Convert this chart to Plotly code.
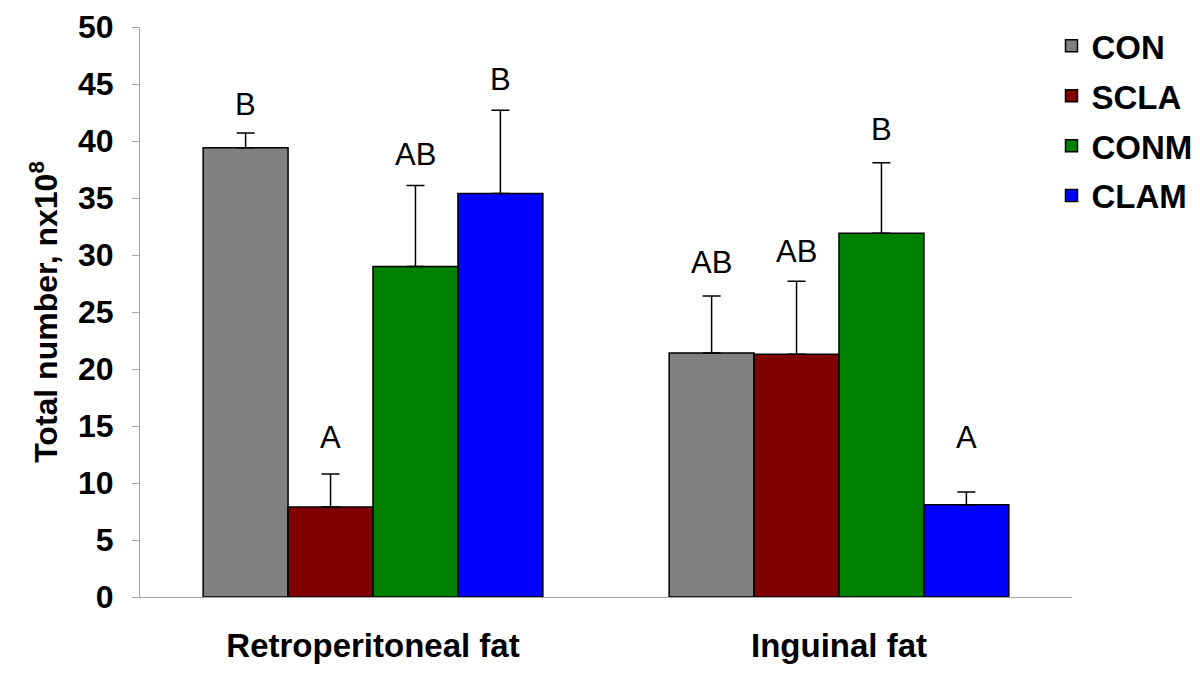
import plotly.graph_objects as go

categories = ["Retroperitoneal fat", "Inguinal fat"]
groups = ["CON", "SCLA", "CONM", "CLAM"]
colors = ["#808080", "#800000", "#008000", "#0000FF"]

con_vals = [39.4, 21.4]
scla_vals = [7.9, 21.3]
conm_vals = [29.0, 31.9]
clam_vals = [35.4, 8.1]

con_err = [1.3, 5.0]
scla_err = [2.9, 6.4]
conm_err = [7.1, 6.2]
clam_err = [7.3, 1.1]

# significance letters and their vertical positions (data units)
con_letters = ["B", "AB"]
scla_letters = ["A", "AB"]
conm_letters = ["AB", "B"]
clam_letters = ["B", "A"]
con_letter_y = [43.2, 29.3]
scla_letter_y = [14.0, 30.3]
conm_letter_y = [38.8, 41.0]
clam_letter_y = [45.4, 14.0]

values = [con_vals, scla_vals, conm_vals, clam_vals]
errors = [con_err, scla_err, conm_err, clam_err]
letters = [con_letters, scla_letters, conm_letters, clam_letters]
letter_y = [con_letter_y, scla_letter_y, conm_letter_y, clam_letter_y]

FONT = "Liberation Sans, Arial, sans-serif"
BARGAP = 0.271

fig = go.Figure()
for i, g in enumerate(groups):
    fig.add_trace(go.Bar(
        name=g, x=categories, y=values[i],
        marker=dict(color=colors[i], line=dict(color="black", width=1.5)),
        error_y=dict(type="data", array=errors[i], arrayminus=[0, 0], symmetric=False,
                     color="black", thickness=1.5, width=9),
        legendgroup=g,
    ))

bw = (1 - BARGAP) / len(groups)
annotations = []
for i in range(len(groups)):
    for j in range(len(categories)):
        annotations.append(dict(
            x=j + (i - (len(groups) - 1) / 2) * bw, y=letter_y[i][j],
            xref="x", yref="y", text=letters[i][j], showarrow=False,
            yanchor="middle", xanchor="center",
            font=dict(family=FONT, size=31, color="black"),
        ))

fig.update_layout(
    width=1200, height=683,
    margin=dict(l=132, r=136, t=19, b=94, autoexpand=False),
    paper_bgcolor="white", plot_bgcolor="white",
    barmode="group", bargap=BARGAP, bargroupgap=0,
    font=dict(family=FONT, color="black"),
    annotations=annotations,
    legend=dict(
        x=0.978, xanchor="left", y=1.016, yanchor="top",
        font=dict(family=FONT, size=33, color="black", weight="bold"),
        tracegroupgap=4, bgcolor="rgba(0,0,0,0)",
    ),
    xaxis=dict(
        type="category", showline=True, linecolor="#a6a6a6", linewidth=1,
        ticks="", showgrid=False, ticklabelstandoff=19, automargin=False,
        tickfont=dict(family=FONT, size=33, color="black", weight="bold"),
        range=[-0.5, 1.5],
    ),
    yaxis=dict(
        range=[0, 50], dtick=5, tick0=0, showgrid=False, zeroline=False,
        showline=True, linecolor="#a6a6a6", linewidth=1,
        ticks="outside", ticklen=7, tickcolor="#a6a6a6", automargin=False,
        ticklabelstandoff=12,
        tickfont=dict(family=FONT, size=32, color="black", weight="bold"),
        title=dict(text="Total number, nx10<sup>8</sup>", standoff=10,
                   font=dict(family=FONT, size=32, color="black", weight="bold")),
    ),
)

fig.write_html("out.html")
